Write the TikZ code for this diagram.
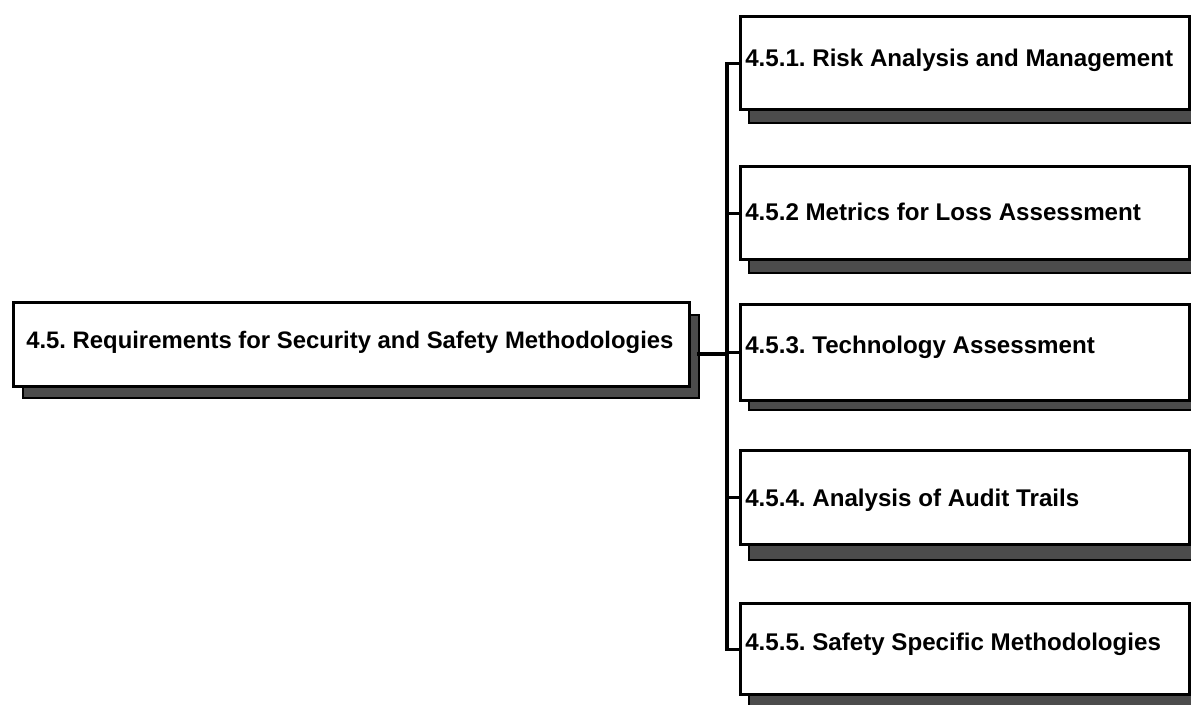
\documentclass[tikz,border=0pt]{standalone}
\usepackage{fontspec}
\setmainfont{Liberation Sans}
\begin{document}
\frenchspacing
\begin{tikzpicture}[x=0.75pt,y=-0.75pt,
  box/.style={draw=black,line width=2.6pt,fill=white,inner sep=0pt,anchor=north west},
  shade/.style={fill=black!70,draw=black,line width=1.4pt},
  lbl/.style={anchor=base west,inner sep=0pt,font=\fontsize{18.1}{20}\selectfont\bfseries},
  conn/.style={line width=2.4pt,line cap=rect}]
\clip (0,0) rectangle (1191,704);
% background and shadows
\fill[white] (0,0) rectangle (1191,704);
\draw[shade] (23,315) rectangle (699,398);
\draw[shade] (749,29) rectangle (1200,123);
\draw[shade] (749,179) rectangle (1200,273);
\draw[shade] (749,317) rectangle (1200,410);
\draw[shade] (749,463) rectangle (1200,560);
\draw[shade] (749,616) rectangle (1200,708);
% boxes
\node[box,minimum width=507pt,minimum height=63pt] (main) at (12,301) {};
\node[box,minimum width=336.75pt,minimum height=69.75pt] (b1) at (739,15) {};
\node[box,minimum width=336.75pt,minimum height=69.75pt] (b2) at (739,165) {};
\node[box,minimum width=336.75pt,minimum height=72pt] (b3) at (739,303) {};
\node[box,minimum width=336.75pt,minimum height=70.5pt] (b4) at (739,449) {};
\node[box,minimum width=336.75pt,minimum height=68.25pt] (b5) at (739,602) {};
% labels
\node[lbl,font=\fontsize{17.9}{20}\selectfont\bfseries] (tmain) at (26,348) {4.5. Requirements for Security and Safety Methodologies};
\node[lbl] (t1) at (745,66) {4.5.1. Risk Analysis and Management};
\node[lbl] (t2) at (745,220) {4.5.2 Metrics for Loss Assessment};
\node[lbl] (t3) at (745,353) {4.5.3. Technology Assessment};
\node[lbl] (t4) at (745,506) {4.5.4. Analysis of Audit Trails};
\node[lbl] (t5) at (745,650) {4.5.5. Safety Specific Methodologies};
% connectors
\coordinate (j0) at (699,354);
\coordinate (bus) at (727,0);
\draw[conn] (j0) -- (j0 -| bus);
\draw[conn] (b1.west) -- (b1.west -| bus) -- (b5.west -| bus) -- (b5.west);
\foreach \b in {b2,b3,b4} \draw[conn] (\b.west) -- (\b.west -| bus);
\end{tikzpicture}
\end{document}
